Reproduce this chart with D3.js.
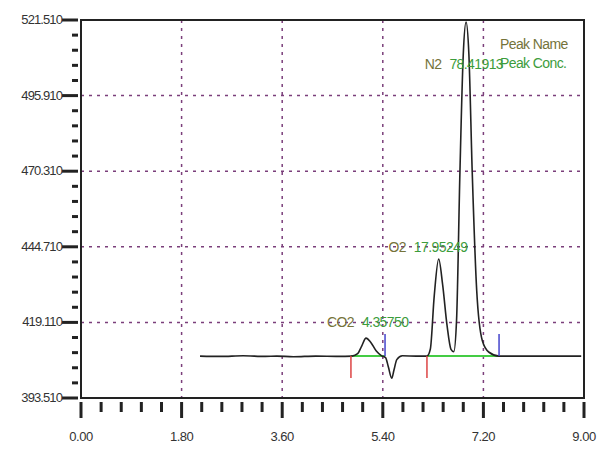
<!DOCTYPE html><html><head><meta charset="utf-8"><script src="https://cdn.jsdelivr.net/npm/d3@7"></script>
<style>body{margin:0;background:#fff}text{font-family:"Liberation Sans",Arial,sans-serif}</style></head><body><svg id="c" width="605" height="457"></svg>
<script>
const xTicks=[0,1.8,3.6,5.4,7.2,9.0];
const yTicks=[393.51,419.11,444.71,470.31,495.91,521.51];
const times=[2.13,2.5,2.9,3.3,3.5,3.8,4.2,4.6,4.85,4.95,5.02,5.1,5.18,5.28,5.38,5.45,5.5,5.56,5.6,5.65,5.75,6.0,6.19,6.25,6.32,6.40,6.47,6.55,6.62,6.67,6.72,6.78,6.84,6.89,6.94,7.0,7.08,7.18,7.3,7.48,8.95];
const signal=[407.7,407.6,407.8,407.6,407.7,407.5,407.7,407.6,407.7,408.5,411,413.8,412.5,409.5,407.8,407.2,404,400.2,403,406.5,407.8,407.7,407.7,410,428,440.6,432,418,410,409.2,420,470,510,520.8,510,470,430,413,409,407.7,407.7];
const peakNames=["CO2","O2","N2"];
const peakConc=["4.35750","17.95249","78.41913"];
const labelPos=[[4.4,419.11],[5.5,444.71],[6.15,506.5]];
const peakStart=[4.83,6.19];
const peakEnd=[5.44,7.48];
const baseVal=407.7;
const svg=d3.select("#c");
const x=d3.scaleLinear().domain([0,9]).range([81,584]);
const y=d3.scaleLinear().domain([393.51,521.51]).range([398,20]);
const olive="#75733a",green="#3c9c3c",grid="#7b3f7b";
svg.selectAll(".vg").data(xTicks.slice(1,-1)).enter().append("line").attr("x1",d=>x(d)).attr("x2",d=>x(d)).attr("y1",20).attr("y2",398).attr("stroke",grid).attr("stroke-width",1.5).attr("stroke-dasharray","3,5");
svg.selectAll(".hg").data(yTicks.slice(1,-1)).enter().append("line").attr("y1",d=>y(d)).attr("y2",d=>y(d)).attr("x1",81).attr("x2",584).attr("stroke",grid).attr("stroke-width",1.5).attr("stroke-dasharray","3,5");
peakStart.forEach((s,i)=>{svg.append("line").attr("x1",x(s)).attr("x2",x(peakEnd[i])).attr("y1",y(baseVal)).attr("y2",y(baseVal)).attr("stroke","#4c4").attr("stroke-width",2);});
svg.append("path").datum(times.map((t,i)=>[t,signal[i]])).attr("d",d3.line().x(d=>x(d[0])).y(d=>y(d[1])).curve(d3.curveMonotoneX)).attr("fill","none").attr("stroke","#222").attr("stroke-width",1.6);
peakStart.forEach(s=>svg.append("line").attr("x1",x(s)).attr("x2",x(s)).attr("y1",y(baseVal)).attr("y2",y(baseVal)+22).attr("stroke","#d44").attr("stroke-width",1.5));
peakEnd.forEach(s=>svg.append("line").attr("x1",x(s)).attr("x2",x(s)).attr("y1",y(baseVal)).attr("y2",y(baseVal)-22).attr("stroke","#44c").attr("stroke-width",1.5));
svg.append("rect").attr("x",81).attr("y",20).attr("width",503).attr("height",378).attr("fill","none").attr("stroke","#222").attr("stroke-width",2);
const yMinor=d3.range(0,26).map(i=>393.51+i*5.12);
svg.selectAll(".yt").data(yMinor).enter().append("line").attr("y1",d=>y(d)).attr("y2",d=>y(d)).attr("x1",(d,i)=>i%5==0?62:72).attr("x2",78).attr("stroke","#222").attr("stroke-width",3);
svg.selectAll(".yl").data(yTicks).enter().append("text").attr("x",62).attr("y",d=>y(d)+4).attr("text-anchor","end").attr("font-size",13).attr("fill","#333").attr("letter-spacing","-0.9").text(d=>d.toFixed(3));
const xMinor=d3.range(0,26).map(i=>i*0.36);
svg.selectAll(".xt").data(xMinor).enter().append("line").attr("x1",d=>x(d)).attr("x2",d=>x(d)).attr("y1",402).attr("y2",(d,i)=>i%5==0?418:412).attr("stroke","#222").attr("stroke-width",3);
svg.selectAll(".xl").data(xTicks).enter().append("text").attr("x",d=>x(d)).attr("y",441).attr("text-anchor","middle").attr("font-size",13).attr("fill","#333").attr("letter-spacing","-0.5").text(d=>d.toFixed(2));
peakNames.forEach((n,i)=>{const g=svg.append("text").attr("x",x(labelPos[i][0])).attr("y",y(labelPos[i][1])+5).attr("font-size",14).attr("letter-spacing","-0.6");
g.append("tspan").attr("fill",olive).text(n);g.append("tspan").attr("dx",8).attr("fill",green).text(peakConc[i]);});
svg.append("text").attr("x",500).attr("y",49).attr("font-size",14).attr("fill",olive).attr("letter-spacing","-0.6").text("Peak Name");
svg.append("text").attr("x",500).attr("y",68).attr("font-size",14).attr("fill",green).attr("letter-spacing","-0.6").text("Peak Conc.");
</script></body></html>
